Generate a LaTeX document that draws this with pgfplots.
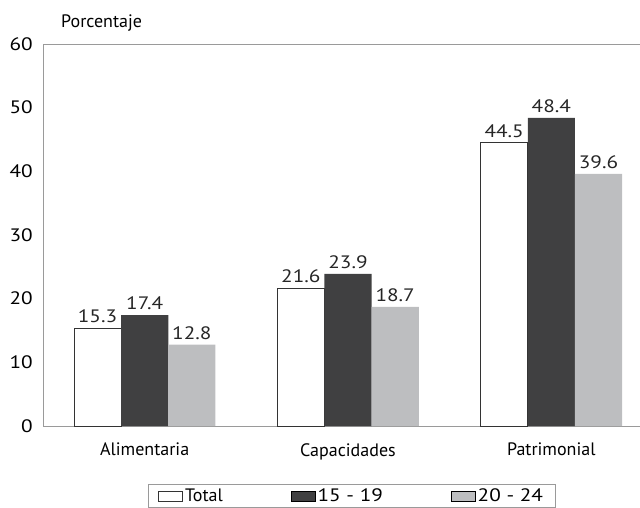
\documentclass[border=0pt]{standalone}
\usepackage{fontspec}
\setmainfont{PT Sans}
\newfontfamily\numfont[FakeStretch=1.18]{PT Sans}
\usepackage{pgfplots}
\pgfplotsset{compat=1.18}
\definecolor{darkbar}{HTML}{404041}
\definecolor{lightbar}{HTML}{BDBEC0}
\definecolor{axgray}{HTML}{9A9A9A}

\begin{document}
\fontsize{18bp}{21bp}\selectfont
\begin{tikzpicture}
\begin{axis}[
  scale only axis, width=610bp, height=382bp,
  ymin=0, ymax=60, ytick={0,10,...,60},
  xmin=-0.5, xmax=2.5,
  xtick={0,1,2}, xticklabels={Alimentaria,Capacidades,Patrimonial},
  ybar, bar width=0.232,
  axis lines*=left,
  axis line style={axgray, line width=0.8bp},
  major tick length=0,
  /pgf/number format/assume math mode=true,
  yticklabel style={xshift=-4bp, font=\numfont},
  xticklabel style={yshift=-11bp},
  nodes near coords,
  every node near coord/.append style={anchor=south, yshift=-1bp, text=black!85, font=\numfont},
  legend columns=3,
  legend cell align=left,
  legend image code/.code={\draw[#1] (0bp,-5bp) rectangle (24bp,5bp);},
  legend style={at={(rel axis cs:0,0)}, anchor=north west, xshift=105bp, yshift=-58bp,
    draw=axgray, line width=0.8bp, inner xsep=10bp,
    nodes={inner xsep=2bp},
    /tikz/every even column/.append style={column sep=66bp}},
]
\addplot[fill=white, draw=black!80, line width=0.8bp, bar shift=-0.232] coordinates {(0,15.3) (1,21.6) (2,44.5)};
\addlegendentry{Total}
\addplot[fill=darkbar, draw=none, bar shift=0] coordinates {(0,17.4) (1,23.9) (2,48.4)};
\addlegendentry{\numfont 15 - 19}
\addplot[fill=lightbar, draw=none, bar shift=0.232] coordinates {(0,12.8) (1,18.7) (2,39.6)};
\addlegendentry{\numfont 20 - 24}
\path (rel axis cs:0,0) coordinate (O);
\end{axis}
\draw[axgray, line width=0.8bp] (O) ++(0,382bp) -- ++(610bp,0);
\path (O) ++(12bp,398bp) node[anchor=base west] {Porcentaje};
\pgfresetboundingbox
\path[use as bounding box] (O) ++(-43bp,-82bp) rectangle ++(640bp,508bp);
\end{tikzpicture}
\end{document}
